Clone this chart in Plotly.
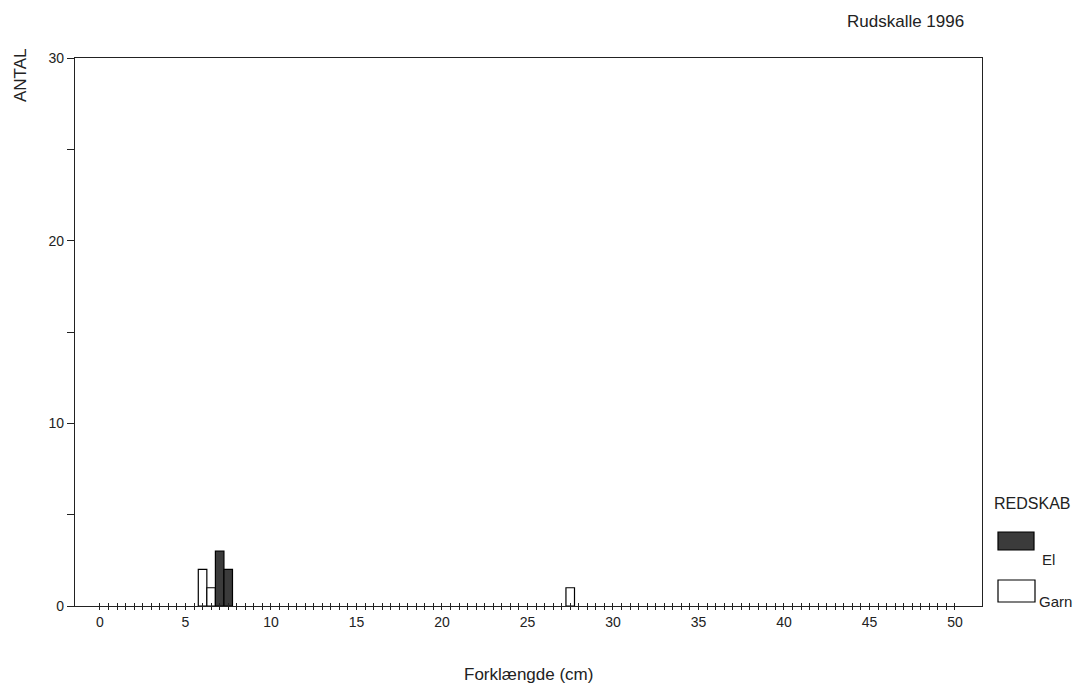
import plotly.graph_objects as go

# Data (length classes, 0.5 cm bins)
garn_x = [6.0, 6.5, 27.5]
garn_n = [2, 1, 1]
el_x = [7.0, 7.5]
el_n = [3, 2]

x_tick_step = 0.5
x_label_vals = [0, 5, 10, 15, 20, 25, 30, 35, 40, 45, 50]
y_tick_vals = [0, 5, 10, 15, 20, 25, 30]
y_tick_text = ["0", "", "10", "", "20", "", "30"]

x_tick_vals = [i * x_tick_step for i in range(0, 101)]
x_tick_text = [str(int(v)) if v in x_label_vals else "" for v in x_tick_vals]

FONT = "Liberation Sans, Arial, sans-serif"
DARK = "#3b3b3b"
XR = [-1.46, 51.58]

fig = go.Figure()
fig.add_trace(go.Bar(x=garn_x, y=garn_n, width=0.5, name="Garn",
                     marker=dict(color="white", line=dict(color="black", width=1.2)),
                     showlegend=False))
fig.add_trace(go.Bar(x=el_x, y=el_n, width=0.5, name="El",
                     marker=dict(color=DARK, line=dict(color="black", width=1.2)),
                     showlegend=False))
# invisible helper trace for the inner half of the crossing x ticks
fig.add_trace(go.Scatter(x=[], y=[], xaxis="x2", showlegend=False, hoverinfo="skip"))

fig.update_layout(
    width=1084, height=684,
    margin=dict(l=75, r=102, t=58, b=78),
    paper_bgcolor="white", plot_bgcolor="white",
    barmode="overlay",
    font=dict(family=FONT, size=14, color="#222"),
    xaxis=dict(range=XR, tickmode="array", tickvals=x_tick_vals, ticktext=x_tick_text,
               ticks="outside", ticklen=3, tickwidth=1, tickcolor="#222",
               showline=True, linecolor="#222", linewidth=1.3, mirror=True,
               showgrid=False, zeroline=False, tickfont=dict(size=14)),
    xaxis2=dict(range=XR, overlaying="x", anchor="y", side="bottom", matches="x",
                tickmode="array", tickvals=x_tick_vals, showticklabels=False,
                ticks="inside", ticklen=3, tickwidth=1, tickcolor="#222",
                showline=False, showgrid=False, zeroline=False),
    yaxis=dict(range=[0, 30], tickmode="array", tickvals=y_tick_vals, ticktext=y_tick_text,
               ticks="outside", ticklen=7, tickwidth=1.2, tickcolor="#222",
               showline=True, linecolor="#222", linewidth=1.3, mirror=True,
               showgrid=False, zeroline=False, tickfont=dict(size=14)),
)

ann = [
    dict(text="Rudskalle 1996", x=(905 - 75) / 907, y=1.0 + (58 - 21) / 548, xref="paper", yref="paper",
         showarrow=False, font=dict(size=17), xanchor="center", yanchor="middle"),
    dict(text="ANTAL", x=-(75 - 20) / 907, y=1.0 - (75 - 58) / 548, xref="paper", yref="paper",
         showarrow=False, textangle=-90, font=dict(size=17), xanchor="center", yanchor="middle"),
    dict(text="Forklængde (cm)", x=0.5, y=-(674 - 606) / 548, xref="paper", yref="paper",
         showarrow=False, font=dict(size=17), xanchor="center", yanchor="middle"),
    dict(text="REDSKAB", x=(992 - 75) / 907, y=(606 - 503) / 548, xref="paper", yref="paper",
         showarrow=False, font=dict(size=16), xanchor="left", yanchor="middle"),
    dict(text="El", x=(1040 - 75) / 907, y=(606 - 559) / 548, xref="paper", yref="paper",
         showarrow=False, font=dict(size=15), xanchor="left", yanchor="middle"),
    dict(text="Garn", x=(1037 - 75) / 907, y=(606 - 601) / 548, xref="paper", yref="paper",
         showarrow=False, font=dict(size=15), xanchor="left", yanchor="middle"),
]
fig.update_layout(annotations=ann)

def px_x(p):
    return (p - 75) / 907

def px_y(p):
    return (606 - p) / 548

fig.update_layout(shapes=[
    dict(type="rect", xref="paper", yref="paper", x0=px_x(998), x1=px_x(1034),
         y0=px_y(550), y1=px_y(532), fillcolor=DARK, line=dict(color="black", width=1.2)),
    dict(type="rect", xref="paper", yref="paper", x0=px_x(998), x1=px_x(1035),
         y0=px_y(602), y1=px_y(580), fillcolor="white", line=dict(color="black", width=1.2)),
])

fig.write_html("out.html", config={"displayModeBar": False},
               post_script="document.body.style.margin='0';document.body.style.overflow='hidden';")
